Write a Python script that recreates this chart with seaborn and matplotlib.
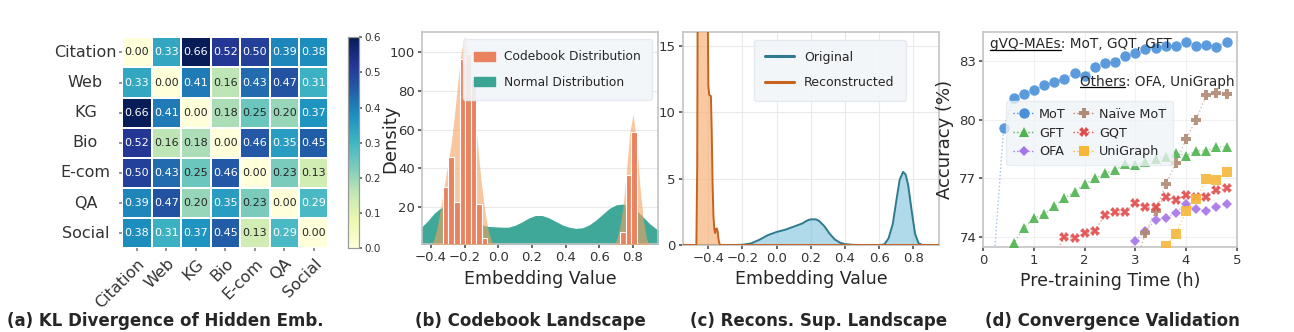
import numpy as np
import pandas as pd
import matplotlib
matplotlib.use("Agg")
import matplotlib.pyplot as plt
import seaborn as sns
from matplotlib.patches import Patch
from matplotlib.lines import Line2D

# ---------------- data ----------------
domains = ["Citation", "Web", "KG", "Bio", "E-com", "QA", "Social"]
kl_citation = [0.00, 0.33, 0.66, 0.52, 0.50, 0.39, 0.38]
kl_web      = [0.33, 0.00, 0.41, 0.16, 0.43, 0.47, 0.31]
kl_kg       = [0.66, 0.41, 0.00, 0.18, 0.25, 0.20, 0.37]
kl_bio      = [0.52, 0.16, 0.18, 0.00, 0.46, 0.35, 0.45]
kl_ecom     = [0.50, 0.43, 0.25, 0.46, 0.00, 0.23, 0.13]
kl_qa       = [0.39, 0.47, 0.20, 0.35, 0.23, 0.00, 0.29]
kl_social   = [0.38, 0.31, 0.37, 0.45, 0.13, 0.29, 0.00]

# (b) codebook histogram bars
cb_bar_x = [-0.314, -0.281, -0.247, -0.213, -0.180, -0.147, -0.114, -0.081, 0.740, 0.772, 0.805]
cb_bar_h = [30.6, 45.7, 22.9, 96.5, 98.6, 85.8, 21.7, 4.0, 7.5, 36.6, 58.5]
# (b) codebook density curve
cb_kde_x = [-0.40, -0.38, -0.36, -0.34, -0.32, -0.30, -0.28, -0.26, -0.24, -0.22, -0.20,
            -0.18, -0.16, -0.14, -0.12, -0.10, -0.08, -0.06, -0.04, -0.02,
            0.68, 0.70, 0.72, 0.74, 0.76, 0.78, 0.80, 0.82, 0.84, 0.86, 0.88, 0.90]
cb_kde_y = [0.0, 4, 11, 21, 32, 42, 53, 68, 85, 100, 108,
            101, 87, 68, 49, 32, 18, 8, 2.5, 0.0,
            0.0, 3, 9, 20, 38, 58, 68, 55, 32, 14, 4, 0.0]
# (b) normal distribution density curve
nd_x = [-0.46, -0.42, -0.38, -0.34, -0.30, -0.26, -0.22, -0.18, -0.14, -0.10, -0.06, -0.02,
        0.02, 0.06, 0.10, 0.14, 0.18, 0.22, 0.26, 0.30, 0.34, 0.38, 0.42, 0.46, 0.50,
        0.54, 0.58, 0.62, 0.66, 0.70, 0.74, 0.78, 0.82, 0.86, 0.90, 0.94, 0.96]
nd_y = [9.5, 13, 17, 19.8, 20.5, 19.5, 17.5, 15, 12.8, 11, 10.2, 10,
        9.8, 9.8, 10.8, 12.5, 14.5, 15.8, 15.8, 14.6, 12.8, 11, 9.8, 9.2, 9.5,
        11, 13.5, 16.5, 19.5, 21.3, 21.7, 20.8, 18.5, 15, 11.5, 8.8, 7.8]

# (c) original embedding density
orig_x = [-0.55, -0.25, -0.20, -0.15, -0.10, -0.05, 0.00, 0.05, 0.10, 0.15, 0.18, 0.20, 0.23,
          0.25, 0.28, 0.31, 0.34, 0.37, 0.40, 0.45, 0.50, 0.60, 0.63, 0.655, 0.68, 0.70,
          0.72, 0.74, 0.755, 0.77, 0.79, 0.81, 0.83, 0.85, 0.95]
orig_y = [0, 0, 0.02, 0.12, 0.40, 0.75, 0.98, 1.15, 1.38, 1.62, 1.85, 1.93, 1.93,
          1.80, 1.40, 0.85, 0.42, 0.18, 0.06, 0.01, 0, 0, 0.04, 0.5, 1.6, 3.3,
          4.9, 5.5, 5.3, 4.5, 2.6, 0.85, 0.15, 0.01, 0]
# (c) reconstructed embedding density
recon_x = [-0.55, -0.47, -0.465, -0.46, -0.45, -0.44, -0.43, -0.42, -0.41, -0.405, -0.40,
           -0.395, -0.385, -0.38, -0.375, -0.37, -0.365, -0.36, -0.355, -0.35, -0.345,
           -0.34, -0.335, -0.33, 0.95]
recon_y = [0, 0, 6, 30, 45, 38, 42, 36, 30, 20, 12,
           11.3, 11.2, 8.5, 4.5, 2.2, 1.2, 0.9, 1.2, 1.25, 1.0,
           0.4, 0.1, 0, 0]

# (d) convergence curves
mot_t = [0.2, 0.4, 0.6, 0.8, 1.0, 1.2, 1.4, 1.6, 1.8, 2.0, 2.2, 2.4, 2.6, 2.8, 3.0, 3.2,
         3.4, 3.6, 3.8, 4.0, 4.2, 4.4, 4.6, 4.8]
mot_acc = [72.4, 79.55, 81.12, 81.29, 81.5, 81.77, 81.9, 82.08, 82.37, 82.23, 82.68, 82.88,
           82.95, 83.26, 83.39, 83.6, 83.68, 83.78, 83.78, 83.96, 83.78, 83.82, 83.73, 83.96]
gft_t = [0.4, 0.6, 0.8, 1.0, 1.2, 1.4, 1.6, 1.8, 2.0, 2.2, 2.4, 2.6, 2.8, 3.0, 3.2, 3.4,
         3.6, 3.8, 4.0, 4.2, 4.4, 4.6, 4.8]
gft_acc = [72.8, 73.66, 74.45, 74.95, 75.15, 75.55, 75.97, 76.3, 76.68, 76.99, 77.25, 77.42,
           77.7, 77.65, 77.85, 78.0, 78.1, 78.3, 78.15, 78.4, 78.4, 78.6, 78.6]
gqt_t = [1.4, 1.6, 1.8, 2.0, 2.2, 2.4, 2.6, 2.8, 3.0, 3.2, 3.4, 3.6, 3.8, 4.0, 4.2, 4.4, 4.6, 4.8]
gqt_acc = [73.1, 73.97, 73.94, 74.18, 74.31, 75.12, 75.25, 75.29, 75.71, 75.5, 75.54, 76.02,
           75.88, 76.14, 76.05, 76.02, 76.4, 76.48]
naive_t = [3.0, 3.2, 3.4, 3.6, 3.8, 4.0, 4.2, 4.4, 4.6, 4.8]
naive_acc = [72.6, 74.18, 75.34, 76.69, 77.78, 79.0, 80.0, 81.26, 81.36, 81.33]
ofa_t = [2.8, 3.0, 3.2, 3.4, 3.6, 3.8, 4.0, 4.2, 4.4, 4.6, 4.8]
ofa_acc = [72.8, 73.8, 74.3, 74.86, 74.95, 75.24, 75.68, 75.4, 75.34, 75.54, 75.68]
uni_t = [3.4, 3.6, 3.8, 4.0, 4.2, 4.4, 4.6, 4.8]
uni_acc = [72.5, 73.53, 74.13, 75.32, 75.92, 76.96, 76.89, 77.3]

captions = ["(a) KL Divergence of Hidden Emb.", "(b) Codebook Landscape",
            "(c) Recons. Sup. Landscape", "(d) Convergence Validation"]

# ---------------- style ----------------
sns.set_theme(style="whitegrid", rc={
    "axes.edgecolor": "#c4c4c4",
    "axes.linewidth": 1.2,
    "grid.color": "#e9e9e9",
    "grid.linewidth": 0.8,
    "xtick.bottom": True,
    "ytick.left": True,
    "xtick.major.size": 3,
    "ytick.major.size": 3,
    "xtick.color": "#555555",
    "ytick.color": "#555555",
    "xtick.labelcolor": "#333333",
    "ytick.labelcolor": "#333333",
})
plt.rcParams["font.family"] = ["DejaVu Sans"]

fig = plt.figure(figsize=(12.94, 3.32), dpi=100)
W, H = 1294.0, 332.0

def px_axes(x0, y0, x1, y1):
    return fig.add_axes([x0 / W, 1 - y1 / H, (x1 - x0) / W, (y1 - y0) / H])

ax_a = px_axes(122.3, 37.3, 328.5, 248.3)
cax = px_axes(348.3, 37.3, 359.3, 248.3)
ax_b = px_axes(421.7, 32.3, 658.3, 244.3)
ax_c = px_axes(682.7, 32.3, 939.3, 245.0)
ax_d = px_axes(983.3, 32.3, 1236.7, 246.7)

# ---------------- (a) heatmap ----------------
kl = pd.DataFrame([kl_citation, kl_web, kl_kg, kl_bio, kl_ecom, kl_qa, kl_social],
                  index=domains, columns=domains)
sns.heatmap(kl, ax=ax_a, cbar_ax=cax, cmap="YlGnBu", vmin=0, vmax=0.6,
            annot=True, fmt=".2f", annot_kws={"size": 8}, linewidths=1.2,
            linecolor="white")
ax_a.set_yticklabels(domains, rotation=0, ha="center", fontsize=11.5)
ax_a.set_xticklabels(domains, rotation=45, ha="right", rotation_mode="anchor", fontsize=11.5)
ax_a.tick_params(axis="y", pad=24, length=2.5, color="#888888")
ax_a.tick_params(axis="x", pad=3, length=2.5, color="#888888")
ax_a.set_xlabel("")
ax_a.set_ylabel("")
cax.tick_params(labelsize=7.5, length=2.5, pad=1.5, color="#666666")
cax.set_yticks([0.0, 0.1, 0.2, 0.3, 0.4, 0.5, 0.6])
cax.set_yticklabels(["0.0", "0.1", "0.2", "0.3", "0.4", "0.5", "0.6"])
for sp in cax.spines.values():
    sp.set_visible(True)
    sp.set_edgecolor("#999999")
    sp.set_linewidth(0.8)

# ---------------- (b) codebook landscape ----------------
teal = "#3aa595"
coral = "#e9825f"
peach = "#f4a261"
ax_b.fill_between(nd_x, 0, nd_y, color=teal, alpha=0.97, lw=0, zorder=2)
ax_b.fill_between(cb_kde_x, 0, cb_kde_y, color=peach, alpha=0.6, lw=0, zorder=3)
ax_b.bar(cb_bar_x, cb_bar_h, width=0.033, color=coral, edgecolor="white",
         linewidth=0.8, zorder=4)
ax_b.set_xlim(-0.455, 0.95)
ax_b.set_ylim(1.0, 110)
ax_b.set_xticks([-0.4, -0.2, 0.0, 0.2, 0.4, 0.6, 0.8])
ax_b.set_xticklabels(["\u22120.4", "\u22120.2", "0.0", "0.2", "0.4", "0.6", "0.8"])
ax_b.set_yticks([20, 40, 60, 80, 100])
ax_b.grid(axis="x", visible=False)
ax_b.tick_params(labelsize=9.5, pad=2)
ax_b.set_xlabel("Embedding Value", fontsize=12.5, labelpad=4)
ax_b.set_ylabel("Density", fontsize=13)
ax_b.yaxis.set_label_coords(-0.095, 0.5)
leg_b = ax_b.legend(handles=[Patch(color=coral, label="Codebook Distribution"),
                             Patch(color=teal, label="Normal Distribution")],
                    loc="upper right", bbox_to_anchor=(1.0, 0.995), fontsize=8.8,
                    handlelength=1.7, handleheight=0.8, labelspacing=1.0,
                    borderpad=0.9, fancybox=True, framealpha=0.9)
leg_b.get_frame().set_facecolor("#f1f5f9")
leg_b.get_frame().set_edgecolor("#e3e9ef")

# ---------------- (c) reconstruction landscape ----------------
orig_line = "#2e7a8e"
orig_fill = "#7cc0db"
rec_line = "#c8621f"
rec_fill = "#f7b47a"
ax_c.fill_between(orig_x, 0, orig_y, color=orig_fill, alpha=0.6, lw=0, zorder=2)
sns.lineplot(x=orig_x, y=orig_y, ax=ax_c, color=orig_line, linewidth=1.4, zorder=3)
ax_c.fill_between(recon_x, 0, recon_y, color=rec_fill, alpha=0.7, lw=0, zorder=4)
sns.lineplot(x=recon_x, y=recon_y, ax=ax_c, color=rec_line, linewidth=1.4, zorder=5)
ax_c.set_xlim(-0.55, 0.952)
ax_c.set_ylim(0, 16)
ax_c.set_xticks([-0.4, -0.2, 0.0, 0.2, 0.4, 0.6, 0.8])
ax_c.set_xticklabels(["\u22120.4", "\u22120.2", "0.0", "0.2", "0.4", "0.6", "0.8"])
ax_c.set_yticks([0, 5, 10, 15])
ax_c.tick_params(labelsize=9.5, pad=2)
ax_c.set_xlabel("Embedding Value", fontsize=12.5, labelpad=4)
ax_c.set_ylabel("")
leg_c = ax_c.legend(handles=[Line2D([], [], color=orig_line, lw=2.2, label="Original"),
                             Line2D([], [], color=rec_line, lw=2.2, label="Reconstructed")],
                    loc="upper center", bbox_to_anchor=(0.574, 0.995), fontsize=9,
                    handlelength=2.3, labelspacing=1.0, borderpad=0.9,
                    fancybox=True, framealpha=0.9)
leg_c.get_frame().set_facecolor("#f1f5f9")
leg_c.get_frame().set_edgecolor("#e3e9ef")

# ---------------- (d) convergence ----------------
series = [
    ("MoT", mot_t, mot_acc, "#4a90d9", "o", 7.5),
    ("GFT", gft_t, gft_acc, "#4fb34f", "^", 7.0),
    ("OFA", ofa_t, ofa_acc, "#a574e6", "D", 5.5),
    ("Na\u00efve MoT", naive_t, naive_acc, "#b08a72", "P", 7.0),
    ("GQT", gqt_t, gqt_acc, "#e04b4b", "X", 7.0),
    ("UniGraph", uni_t, uni_acc, "#f6b73c", "s", 6.5),
]
handles = []
for name, t, acc, col, mk, ms in series:
    sns.lineplot(x=t, y=acc, ax=ax_d, color=col, linestyle=":", linewidth=1.0,
                 alpha=0.55, zorder=3)
    sns.lineplot(x=t, y=acc, ax=ax_d, color=col, linestyle="", marker=mk,
                 markersize=ms, markeredgewidth=0, alpha=0.9, zorder=4)
    handles.append(Line2D([], [], color=col, linestyle=":", linewidth=1.0, marker=mk,
                          markersize=ms, markeredgewidth=0, label=name))
ax_d.set_xlim(0, 5)
ax_d.set_ylim(73.49, 84.47)
ax_d.set_xticks([0, 1, 2, 3, 4, 5])
ax_d.set_yticks([74, 77, 80, 83])
ax_d.tick_params(labelsize=9.5, pad=2)
ax_d.grid(alpha=0.6)
ax_d.set_xlabel("Pre-training Time (h)", fontsize=12.5, labelpad=4)
ax_d.set_ylabel("Accuracy (%)", fontsize=13, labelpad=4)
leg_d = ax_d.legend(handles=handles, ncol=2, loc="upper left",
                    bbox_to_anchor=(0.066, 0.71), fontsize=9.2, handlelength=1.6,
                    columnspacing=0.6, handletextpad=0.4, labelspacing=0.45,
                    borderpad=0.55, fancybox=True, framealpha=0.75)
leg_d.get_frame().set_facecolor("#eef3f8")
leg_d.get_frame().set_edgecolor("#e3e9ef")
leg_d.set_zorder(5)

t1 = ax_d.text(0.026, 0.944, "gVQ-MAEs: MoT, GQT, GFT", transform=ax_d.transAxes,
               ha="left", va="center", fontsize=9.8, zorder=6)
t2 = ax_d.text(0.99, 0.77, "Others: OFA, UniGraph", transform=ax_d.transAxes,
               ha="right", va="center", fontsize=9.8, zorder=6)

# captions
for txt, cx in zip(captions, [165, 530, 819, 1112]):
    fig.text(cx / W, (H - 321) / H, txt, ha="center", va="center",
             fontsize=12, fontweight="bold")

# underline the group names
fig.canvas.draw()
renderer = fig.canvas.get_renderer()
for t, prefix in [(t1, "gVQ-MAEs"), (t2, "Others")]:
    bb = t.get_window_extent(renderer)
    tmp = ax_d.text(0, 0, prefix, fontsize=9.8)
    wb = tmp.get_window_extent(renderer)
    tmp.remove()
    inv = ax_d.transAxes.inverted()
    p0 = inv.transform((bb.x0, bb.y0 + 1.5))
    p1 = inv.transform((bb.x0 + wb.width, bb.y0 + 1.5))
    ax_d.add_line(Line2D([p0[0], p1[0]], [p0[1], p1[1]], transform=ax_d.transAxes,
                         color="black", linewidth=0.9, zorder=6))

fig.savefig("out.png", dpi=100)
